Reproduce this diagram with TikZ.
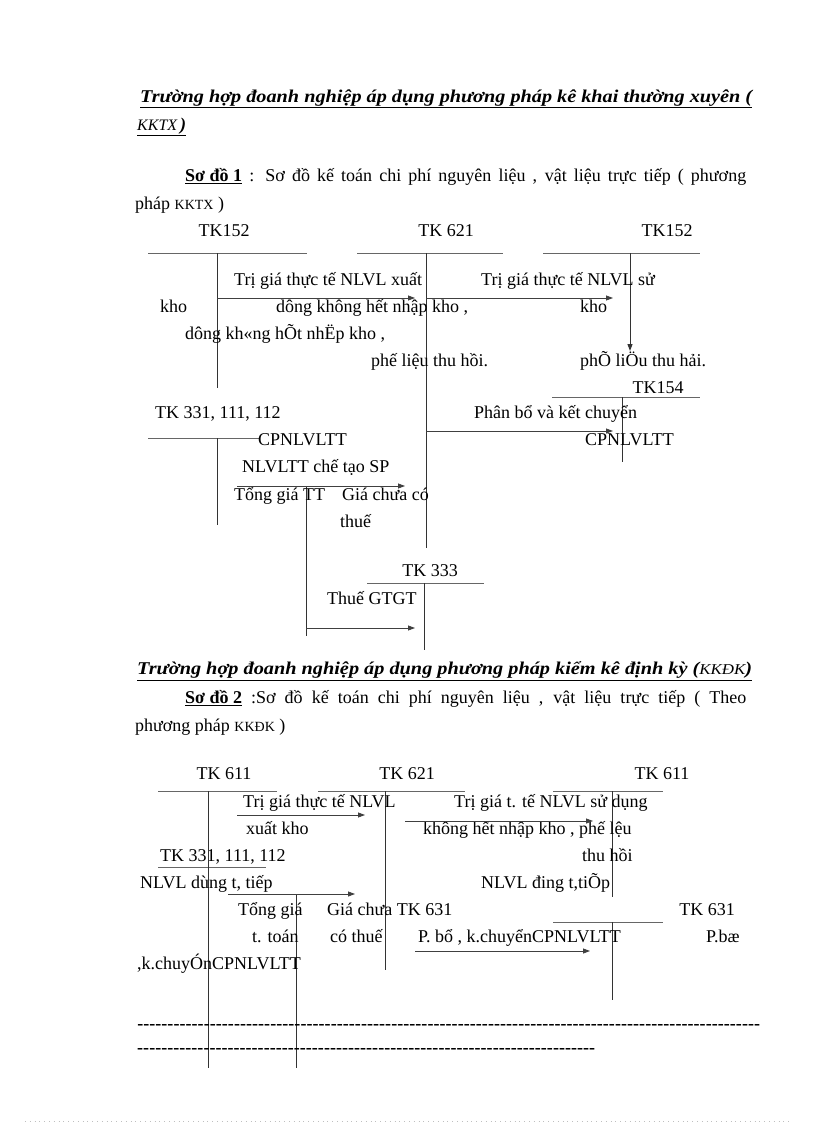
\documentclass[tikz,border=0pt]{standalone}
\usepackage{fontspec}
\setmainfont{Liberation Serif}
\usepackage{graphicx}
\usetikzlibrary{arrows.meta}
\newcommand{\fitline}[2]{\resizebox{#1}{\height}{#2}}
\newcommand{\bodyfont}{\fontsize{18}{22}\selectfont}

\begin{document}
\begin{tikzpicture}[x=1pt, y=-1pt,
    txt/.style={inner sep=0pt, anchor=west, text height=13pt, text depth=4pt, font=\bodyfont},
    acct/.style={inner sep=0pt, text height=13pt, text depth=4pt, font=\bodyfont},
    head/.style={inner sep=0pt, anchor=west, font=\bodyfont\bfseries\itshape},
    tline/.style={draw=black!60, line width=0.9pt},
    vline/.style={draw=black!80, line width=1pt},
    flow/.style={draw=black!75, line width=0.8pt, -{Triangle[length=7pt, width=5pt]}}
  ]
\fill[white] (0, 0) rectangle (816, 1123);
\useasboundingbox (0, 0) rectangle (816, 1123);

% so do 1
\node[head] (h1a) at (140, 99) {\underline{\fitline{612pt}{Trường hợp đoanh nghiệp áp dụng phương pháp kê khai thường xuyên (}}};
\node[head] (h1b) at (137, 127) {\underline{{\fontsize{16}{18}\selectfont\mdseries KKTX}\,)}};
\node[txt] (s1a) at (185, 177) {\makebox[561pt][s]{\underline{\textbf{Sơ đồ 1}} : Sơ đồ kế toán chi phí nguyên liệu  , vật liệu  trực tiếp  ( phương}};
\node[txt] (s1b) at (135, 205) {pháp {\fontsize{14}{16}\selectfont KKTX} )};

\node[acct] (k152a) at (224, 232) {TK152};
\node[acct] (k621a) at (446, 232) {TK 621};
\node[acct] (k152b) at (667, 232) {TK152};
\node[acct] (k154) at (658, 389) {TK154};
\node[txt] (k331a) at (155, 414) {TK 331, 111, 112};
\node[acct] (k333) at (430, 572) {TK 333};

\coordinate (a1l) at (148, 253);
\coordinate (a1r) at (307, 253);
\coordinate (a2l) at (357, 253);
\coordinate (a2r) at (503, 253);
\coordinate (a3l) at (543, 253);
\coordinate (a3r) at (700, 253);
\coordinate (a4l) at (552, 397);
\coordinate (a4r) at (700, 397);
\coordinate (a5l) at (148, 438);
\coordinate (a5r) at (260, 438);
\coordinate (a6l) at (367, 583);
\coordinate (a6r) at (484, 583);
\draw[tline] (a1l) -- (a1r);
\draw[tline] (a2l) -- (a2r);
\draw[tline] (a3l) -- (a3r);
\draw[tline] (a4l) -- (a4r);
\draw[tline] (a5l) -- (a5r);
\draw[tline] (a6l) -- (a6r);

\coordinate (v1t) at (217, 253);
\coordinate (v1b) at (217, 388);
\coordinate (v2t) at (426, 253);
\coordinate (v2b) at (426, 548);
\coordinate (v3t) at (630, 253);
\coordinate (v3b) at (630, 351);
\coordinate (v4t) at (622, 397);
\coordinate (v4b) at (622, 462);
\coordinate (v5t) at (217, 438);
\coordinate (v5b) at (217, 525);
\coordinate (v6t) at (306, 486);
\coordinate (v6b) at (306, 636);
\coordinate (v7t) at (424, 583);
\coordinate (v7b) at (424, 650);
\draw[vline] (v1t) -- (v1b);
\draw[vline] (v2t) -- (v2b);
\draw[vline, -{Triangle[length=7pt, width=5pt]}] (v3t) -- (v3b);
\draw[vline] (v4t) -- (v4b);
\draw[vline] (v5t) -- (v5b);
\draw[vline] (v6t) -- (v6b);
\draw[vline] (v7t) -- (v7b);

\node[txt] (l1) at (234, 281) {Trị giá  thực tế NLVL xuất};
\node[txt] (l2) at (481, 281) {Trị giá  thực tế NLVL  sử};
\node[txt] (l3) at (160, 308) {kho};
\node[txt] (l4) at (276, 308) {dông không hết nhập kho ,};
\node[txt] (l5) at (580, 308) {kho};
\node[txt] (l6) at (185, 335) {dông kh«ng hÕt nhËp kho ,};
\node[txt] (l7) at (371, 362) {phế liệu  thu hồi.};
\node[txt] (l8) at (580, 362) {phÕ liÖu thu hải.};
\node[txt] (l9) at (474, 414) {Phân bổ và kết chuyển};
\node[txt] (l10) at (258, 441) {CPNLVLTT};
\node[txt] (l11) at (585, 441) {CPNLVLTT};
\node[txt] (l12) at (242, 468) {NLVLTT chế tạo SP};
\node[txt] (l13) at (234, 496) {Tổng giá  TT};
\node[txt] (l14) at (342, 496) {Giá  chưa có};
\node[txt] (l15) at (340, 523) {thuế};
\node[txt] (l16) at (327, 600) {Thuế GTGT};

\coordinate (f1s) at (217, 298);
\coordinate (f1e) at (415, 298);
\coordinate (f2s) at (426, 298);
\coordinate (f2e) at (613, 298);
\coordinate (f3s) at (426, 431);
\coordinate (f3e) at (613, 431);
\coordinate (f4s) at (237, 486);
\coordinate (f4e) at (405, 486);
\coordinate (f5s) at (306, 628);
\coordinate (f5e) at (415, 628);
\draw[flow] (f1s) -- (f1e);
\draw[flow] (f2s) -- (f2e);
\draw[flow] (f3s) -- (f3e);
\draw[flow] (f4s) -- (f4e);
\draw[flow] (f5s) -- (f5e);

% so do 2
\node[head] (h2) at (137, 671) {\underline{\fitline{615pt}{Trường hợp đoanh nghiệp áp dụng phương pháp kiểm kê định kỳ ({\fontsize{15}{17}\selectfont\mdseries KKĐK})}}};
\node[txt] (s2a) at (185, 699) {\makebox[561pt][s]{\underline{\textbf{Sơ đồ 2}} :Sơ đồ kế toán chi phí nguyên liệu  , vật liệu  trực tiếp  ( Theo}};
\node[txt] (s2b) at (135, 727) {phương pháp {\fontsize{14}{16}\selectfont KKĐK} )};

\node[acct] (k611a) at (224, 775) {TK 611};
\node[acct] (k621b) at (407, 775) {TK 621};
\node[acct] (k611b) at (662, 775) {TK 611};
\node[txt] (k331b) at (160, 857) {TK 331, 111, 112};
\node[acct] (k631) at (707, 911) {TK 631};

\coordinate (b1l) at (158, 791);
\coordinate (b1r) at (277, 791);
\coordinate (b2l) at (318, 791);
\coordinate (b2r) at (465, 791);
\coordinate (b3l) at (553, 791);
\coordinate (b3r) at (663, 791);
\coordinate (b4l) at (158, 867);
\coordinate (b4r) at (266, 867);
\coordinate (b5l) at (553, 922);
\coordinate (b5r) at (663, 922);
\draw[tline] (b1l) -- (b1r);
\draw[tline] (b2l) -- (b2r);
\draw[tline] (b3l) -- (b3r);
\draw[tline] (b4l) -- (b4r);
\draw[tline] (b5l) -- (b5r);

\coordinate (w1t) at (208, 791);
\coordinate (w1b) at (208, 1068);
\coordinate (w2t) at (385, 791);
\coordinate (w2b) at (385, 970);
\coordinate (w3t) at (612, 791);
\coordinate (w3b) at (612, 897);
\coordinate (w4t) at (612, 922);
\coordinate (w4b) at (612, 1000);
\coordinate (w5t) at (296, 894);
\coordinate (w5b) at (296, 1068);
\draw[vline] (w1t) -- (w1b);
\draw[vline] (w2t) -- (w2b);
\draw[vline] (w3t) -- (w3b);
\draw[vline] (w4t) -- (w4b);
\draw[vline] (w5t) -- (w5b);

\node[txt] (m1) at (243, 803) {Trị giá  thực tế NLVL};
\node[txt] (m2) at (454, 803) {Trị giá  t. tế NLVL sử dụng};
\node[txt] (m3) at (246, 830) {xuất kho};
\node[txt] (m4) at (423, 830) {không hết nhập kho , phế lệu};
\node[txt] (m5) at (582, 857) {thu hồi};
\node[txt] (m6) at (140, 884) {NLVL dùng t, tiếp};
\node[txt] (m7) at (481, 884) {NLVL  đing t,tiÕp};
\node[txt] (m8) at (238, 911) {Tổng giá};
\node[txt] (m9) at (327, 911) {Giá  chưa TK 631};
\node[txt] (m10) at (252, 938) {t. toán};
\node[txt] (m11) at (330, 938) {có thuế};
\node[txt] (m12) at (418, 938) {P. bổ , k.chuyểnCPNLVLTT};
\node[txt] (m13) at (706, 938) {P.bæ};
\node[txt] (m14) at (137, 965) {,k.chuyÓnCPNLVLTT};

\coordinate (g1s) at (237, 815);
\coordinate (g1e) at (365, 815);
\coordinate (g2s) at (405, 821);
\coordinate (g2e) at (593, 821);
\coordinate (g3s) at (228, 894);
\coordinate (g3e) at (355, 894);
\coordinate (g4s) at (415, 951);
\coordinate (g4e) at (590, 951);
\draw[flow] (g1s) -- (g1e);
\draw[flow] (g2s) -- (g2e);
\draw[flow] (g3s) -- (g3e);
\draw[flow] (g4s) -- (g4e);

\node[txt] (d1) at (137, 1025) {\bfseries\makebox[623pt]{\xleaders\hbox{-}\hfill}};
\node[txt] (d2) at (137, 1049) {\bfseries\makebox[458pt]{\xleaders\hbox{-}\hfill}};
\draw[black!25, line width=0.5pt, dash pattern=on 0.8pt off 4pt] (25, 1121) -- (790, 1121);
\end{tikzpicture}
\end{document}
